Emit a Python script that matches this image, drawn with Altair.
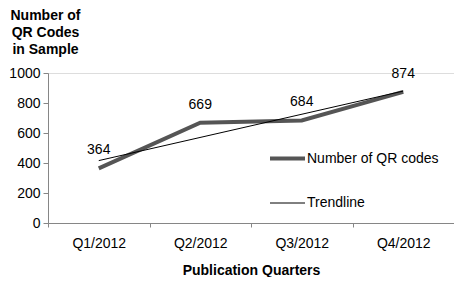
import altair as alt
import pandas as pd

quarters = ["Q1/2012", "Q2/2012", "Q3/2012", "Q4/2012"]
qr_counts = [364, 669, 684, 874]
quarter_index = [1, 2, 3, 4]

series_names = ["Number of QR codes", "Trendline"]

df = pd.DataFrame({"quarter": quarters, "count": qr_counts, "idx": quarter_index})

FONT = "Liberation Sans"

color_scale = alt.Scale(domain=series_names, range=["#555555", "#000000"])
width_scale = alt.Scale(domain=series_names, range=[4, 1])

legend = alt.Legend(
    title=None, orient="none", legendX=220, legendY=66,
    symbolType="stroke", symbolSize=1225, labelFontSize=14, labelFont=FONT,
    labelColor="black", rowPadding=18, labelOffset=0, padding=0,
)

x_enc = alt.X(
    "quarter:N", sort=quarters, bandPosition=0.5,
    scale=alt.Scale(type="band", paddingInner=0, paddingOuter=0),
    axis=alt.Axis(
        title="Publication Quarters", tickBand="extent", labelAngle=0,
        labelFontSize=14, labelFont=FONT, labelColor="black", labelPadding=9,
        titleFontSize=14, titleFont=FONT, titleFontWeight="bold", titlePadding=13,
        titleColor="black", domainColor="#868686", tickColor="#868686", tickSize=4,
        grid=False,
    ),
)

y_axis = alt.Axis(
    values=[0, 200, 400, 600, 800, 1000], grid=False, labelOverlap=False, format="d",
    labelFontSize=14, labelFont=FONT, labelColor="black", labelPadding=3,
    domainColor="#868686", tickColor="#868686", tickSize=5,
    title=["Number of", "QR Codes", "in Sample"], titleAngle=0,
    titleAlign="center", titleBaseline="top", titleX=-3, titleY=-65,
    titleFontSize=14, titleFont=FONT, titleFontWeight="bold",
    titleLineHeight=17, titleColor="black",
)
y_scale = alt.Scale(domain=[0, 1000], nice=False)

main_line = alt.Chart(df).transform_calculate(
    series="'Number of QR codes'"
).mark_line(strokeCap="butt").encode(
    x=x_enc,
    y=alt.Y("count:Q", scale=y_scale, axis=y_axis),
    color=alt.Color("series:N", scale=color_scale, legend=legend),
    strokeWidth=alt.StrokeWidth("series:N", scale=width_scale, legend=legend),
)

labels = alt.Chart(df).mark_text(dy=-18, fontSize=14, font=FONT, color="black").encode(
    x=alt.X("quarter:N", sort=quarters, bandPosition=0.5),
    y=alt.Y("count:Q", scale=y_scale, axis=y_axis),
    text="count:Q",
)

trend = alt.Chart(df).transform_regression(
    "idx", "count", method="linear"
).transform_calculate(series="'Trendline'").mark_line().encode(
    x=alt.X("idx:Q", scale=alt.Scale(domain=[0.5, 4.5], nice=False, zero=False), axis=None),
    y=alt.Y("count:Q", scale=y_scale, axis=y_axis),
    color=alt.Color("series:N", scale=color_scale, legend=legend),
    strokeWidth=alt.StrokeWidth("series:N", scale=width_scale, legend=legend),
)

base = alt.layer(main_line, labels).resolve_scale(x="shared")
chart = alt.layer(base, trend).resolve_scale(x="independent").properties(
    width=406, height=150,
    autosize=alt.AutoSizeParams(type="none"),
    padding={"left": 40, "top": 65, "right": 0, "bottom": 54},
).configure_view(stroke=None).configure(background="white")

chart.save("out.html", embed_options={"renderer": "svg", "actions": False})
